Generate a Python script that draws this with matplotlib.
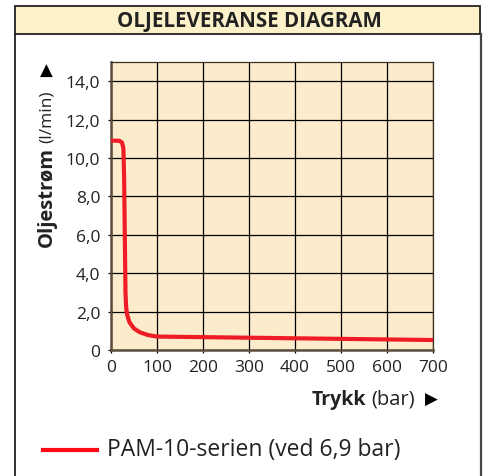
import matplotlib
matplotlib.use("Agg")
import matplotlib.pyplot as plt
from matplotlib.patches import Rectangle
from matplotlib.lines import Line2D

plt.rcParams['font.family'] = ['Open Sans', 'DejaVu Sans']

# Data
pressure_bar = [0, 18, 24, 27, 28.5, 30, 31.5, 33, 35, 40, 50, 63, 80, 100, 700]
flow_lpm = [10.9, 10.9, 10.8, 10.5, 9.0, 6.0, 3.0, 2.2, 1.85, 1.45, 1.12, 0.92, 0.78, 0.70, 0.52]
x_ticks = [0, 100, 200, 300, 400, 500, 600, 700]
x_tick_labels = ["0", "100", "200", "300", "400", "500", "600", "700"]
y_ticks = [0, 2, 4, 6, 8, 10, 12, 14]
y_tick_labels = ["0", "2,0", "4,0", "6,0", "8,0", "10,0", "12,0", "14,0"]
title = "OLJELEVERANSE DIAGRAM"
series_label = "PAM-10-serien (ved 6,9 bar)"

W, H = 486, 477
fig = plt.figure(figsize=(W / 100, H / 100), dpi=100)

def fx(px):
    return px / W

def fy(py):
    return 1 - py / H

# Outer frame and title band
fig.patches.append(Rectangle((fx(15), fy(35)), fx(480) - fx(15), fy(7) - fy(35),
                             transform=fig.transFigure, facecolor="#fcf1c8",
                             edgecolor="#222222", lw=1.3, zorder=0))
fig.add_artist(Line2D([fx(15), fx(15)], [fy(35), -0.01], transform=fig.transFigure,
                      color="#222222", lw=1.3))
fig.add_artist(Line2D([fx(480.5), fx(480.5)], [fy(35), -0.01], transform=fig.transFigure,
                      color="#444444", lw=1.6))
fig.text(fx(249), fy(21.5), title, ha="center", va="center", fontsize=14.8,
         fontweight="bold", color="#222222")

ax = fig.add_axes([fx(111), fy(351), fx(433) - fx(111), fy(63) - fy(351)])
ax.set_facecolor("#fdeccb")
ax.plot(pressure_bar, flow_lpm, color="#ee1c25", lw=3, solid_capstyle="butt", zorder=3)
ax.set_xlim(0, 700)
ax.set_ylim(0, 15)
ax.set_xticks(x_ticks)
ax.set_xticklabels(x_tick_labels)
ax.set_yticks(y_ticks)
ax.set_yticklabels(y_tick_labels)
ax.grid(True, color="black", lw=0.9, zorder=1)
ax.set_axisbelow(True)
ax.tick_params(direction="out", length=2.2, width=0.9, color="black",
               labelsize=12.5, labelcolor="#222222")
ax.tick_params(axis="y", pad=5.5)
ax.tick_params(axis="x", pad=4.5)
for side in ["top", "right"]:
    ax.spines[side].set_color("#3a3020")
    ax.spines[side].set_linewidth(0.9)
for side in ["left", "bottom"]:
    ax.spines[side].set_color("#5a4d3c")
    ax.spines[side].set_linewidth(1.8)

# Y label: bold part + normal part
fig.text(fx(46.5), fy(247), "Oljestrøm", rotation=90, ha="center", va="bottom",
         fontsize=14.5, fontweight="bold", color="#222222")
fig.text(fx(46.5), fy(143), "(l/min)", rotation=90, ha="center", va="bottom",
         fontsize=12.5, color="#222222")
fig.text(fx(46.5), fy(71), "▲", ha="center", va="center", fontsize=12,
         color="black", family="DejaVu Sans")

# X label
fig.text(fx(312), fy(400), "Trykk", ha="left", va="center", fontsize=14,
         fontweight="bold", color="#222222")
fig.text(fx(415), fy(400), "(bar)", ha="right", va="center", fontsize=14.5,
         color="#222222")
fig.text(fx(431.5), fy(400), "▶", ha="center", va="center", fontsize=12,
         color="black", family="DejaVu Sans")

# Legend
fig.add_artist(Line2D([fx(43), fx(97)], [fy(451), fy(451)], transform=fig.transFigure,
                      color="#ff0a14", lw=3))
fig.text(fx(107), fy(450), series_label, ha="left", va="center", fontsize=16.5,
         color="#222222")

fig.savefig("out.png", dpi=100)
